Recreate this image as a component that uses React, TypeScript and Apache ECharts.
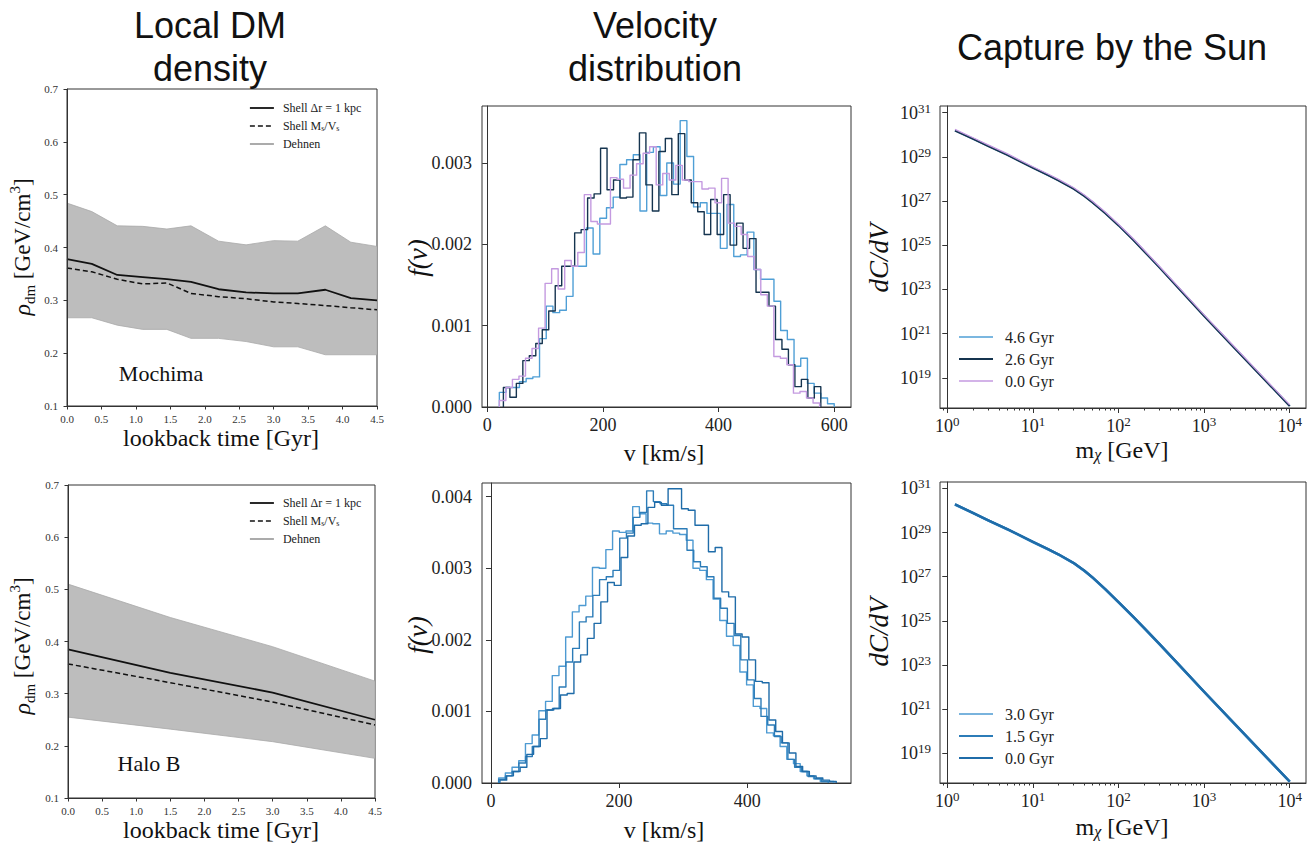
import React, { useEffect, useRef } from 'react';
import * as echarts from 'echarts';

const SERIF = "'Liberation Serif', 'DejaVu Serif', serif";
const SANS = "'Liberation Sans', Arial, sans-serif";

// ---------- Local DM density ----------
const mochimaTime = [0, 0.36, 0.73, 1.1, 1.45, 1.8, 2.2, 2.6, 3.0, 3.35, 3.75, 4.12, 4.5];
const mochimaShell = [0.378, 0.369, 0.348, 0.344, 0.340, 0.335, 0.321, 0.315, 0.313, 0.313, 0.320, 0.304, 0.300];
const mochimaShellMV = [0.361, 0.354, 0.340, 0.331, 0.333, 0.313, 0.307, 0.303, 0.297, 0.294, 0.290, 0.286, 0.282];
const mochimaDehnenLow = [0.267, 0.267, 0.253, 0.245, 0.245, 0.228, 0.228, 0.222, 0.212, 0.212, 0.197, 0.197, 0.197];
const mochimaDehnenHigh = [0.484, 0.468, 0.441, 0.440, 0.435, 0.441, 0.412, 0.405, 0.413, 0.412, 0.441, 0.410, 0.402];

const haloBTime = [0, 1.5, 3.0, 4.5];
const haloBShell = [0.385, 0.340, 0.302, 0.250];
const haloBShellMV = [0.357, 0.321, 0.284, 0.240];
const haloBDehnenLow = [0.255, 0.232, 0.208, 0.176];
const haloBDehnenHigh = [0.510, 0.446, 0.390, 0.324];

const densityTicksX = [0, 4.5];
const densityTicksY = [0.1, 0.7];

// ---------- Velocity distributions (values in units of 1e-3) ----------
const velTop46 = { start: 21, width: 11.58, values: [0.18, 0.24, 0.24, 0.31, 0.35, 0.37, 0.84, 1.24, 1.16, 1.19, 1.36, 1.73, 1.73, 2.20, 1.88, 2.32, 2.45, 2.58, 2.98, 3.04, 3.10, 2.41, 3.13, 3.20, 2.60, 3.00, 2.74, 3.52, 3.08, 2.46, 2.51, 2.38, 2.38, 1.95, 2.49, 1.85, 1.87, 2.15, 1.69, 1.57, 1.57, 1.30, 0.94, 0.83, 0.50, 0.60, 0.29, 0.17, 0.11, 0.04] };
const velTop26 = { start: 28, width: 11.2, values: [0.24, 0.12, 0.29, 0.57, 0.63, 0.78, 0.95, 1.18, 1.49, 1.73, 1.73, 2.14, 2.18, 2.57, 2.62, 3.18, 2.67, 2.79, 2.57, 2.58, 3.04, 3.37, 2.73, 2.41, 3.14, 3.30, 2.61, 3.36, 2.79, 2.51, 2.40, 2.12, 2.55, 2.12, 2.61, 1.99, 2.26, 1.95, 2.07, 1.41, 1.41, 1.24, 0.83, 0.71, 0.52, 0.25, 0.34, 0.11, 0.25] };
const velTop00 = { start: 21, width: 11.3, values: [0.08, 0.24, 0.34, 0.38, 0.60, 0.72, 0.97, 1.52, 1.70, 1.45, 1.80, 1.73, 1.90, 2.61, 2.28, 2.25, 2.25, 2.82, 2.80, 2.69, 2.85, 2.99, 3.12, 3.20, 2.73, 2.87, 2.79, 2.97, 2.79, 2.77, 2.77, 2.68, 2.69, 2.51, 2.81, 2.26, 2.22, 2.12, 1.85, 1.69, 1.38, 1.24, 0.62, 0.60, 0.52, 0.17, 0.19, 0.11, 0.05] };

const velBot30 = { start: 12, width: 10.46, values: [0.07, 0.14, 0.22, 0.31, 0.55, 0.67, 1.01, 1.14, 1.50, 1.63, 2.04, 2.39, 2.48, 2.61, 3.01, 3.00, 3.26, 3.52, 3.50, 3.52, 3.86, 3.76, 3.63, 3.62, 3.48, 3.52, 3.49, 3.47, 3.39, 3.00, 2.97, 2.84, 2.57, 2.27, 2.05, 1.92, 1.55, 1.37, 1.07, 1.04, 0.70, 0.66, 0.51, 0.33, 0.27, 0.16, 0.10, 0.06, 0.02, 0.02] };
const velBot15 = { start: 12, width: 10.5, values: [0.05, 0.10, 0.16, 0.28, 0.37, 0.51, 0.89, 1.02, 1.04, 1.34, 1.69, 1.88, 2.25, 2.32, 2.62, 2.84, 2.88, 2.97, 3.42, 3.49, 3.71, 3.78, 4.08, 3.93, 3.90, 3.88, 3.55, 3.55, 3.25, 3.09, 3.02, 2.88, 2.58, 2.44, 2.23, 2.06, 1.72, 1.44, 1.18, 0.93, 0.81, 0.65, 0.56, 0.33, 0.22, 0.16, 0.09, 0.06, 0.02] };
const velBot00 = { start: 14, width: 10.5, values: [0.04, 0.10, 0.16, 0.22, 0.40, 0.51, 0.62, 1.02, 1.04, 1.23, 1.25, 1.69, 1.79, 2.02, 2.23, 2.53, 2.80, 2.76, 3.15, 3.45, 3.60, 3.62, 3.85, 3.92, 3.88, 4.11, 4.11, 3.83, 3.81, 3.60, 3.60, 3.23, 3.29, 2.67, 2.60, 2.08, 2.04, 1.72, 1.42, 1.40, 0.88, 0.72, 0.56, 0.42, 0.23, 0.16, 0.10, 0.07, 0.04, 0.02] };

const velTopTicksX = [0, 200, 400, 600];
const velTopTicksY = [0, 0.001, 0.002, 0.003];
const velBotTicksX = [0, 200, 400];
const velBotTicksY = [0, 0.001, 0.002, 0.003, 0.004];

// ---------- Capture by the Sun ----------
const captureMass = [1.23, 2, 3, 5, 10, 15, 20, 30, 40, 50, 70, 100, 150, 200, 300, 500, 1000, 2000, 5000, 10000];
const capTop46 = [1.58e30, 6.6e29, 3.15e29, 1.25e29, 3.22e28, 1.51e28, 8.7e27, 3.62e27, 1.69e27, 8.7e26, 2.88e26, 8.1e25, 1.73e25, 5.35e24, 1.02e24, 1.19e23, 6.44e21, 3.8e20, 9.1e18, 5.48e17];
const capTop26 = [1.55e30, 6.46e29, 3.09e29, 1.23e29, 3.16e28, 1.48e28, 8.51e27, 3.55e27, 1.66e27, 8.51e26, 2.82e26, 7.94e25, 1.70e25, 5.25e24, 1.0e24, 1.17e23, 6.31e21, 3.72e20, 8.91e18, 5.37e17];
const capTop00 = [1.75e30, 7.3e29, 3.49e29, 1.39e29, 3.57e28, 1.67e28, 9.6e27, 4.0e27, 1.88e27, 9.6e26, 3.19e26, 8.97e25, 1.92e25, 5.93e24, 1.13e24, 1.32e23, 7.13e21, 4.2e20, 1.01e19, 6.07e17];
const capBot30 = [1.85e30, 7.53e29, 3.52e29, 1.41e29, 3.69e28, 1.73e28, 9.9e27, 4.05e27, 1.8e27, 8.85e26, 2.67e26, 6.87e25, 1.44e25, 4.54e24, 8.85e23, 1.07e23, 5.98e21, 3.52e20, 8.45e18, 5.09e17];
const capBot15 = [1.89e30, 7.68e29, 3.59e29, 1.44e29, 3.76e28, 1.76e28, 1.01e28, 4.13e27, 1.84e27, 9.03e26, 2.72e26, 7.01e25, 1.47e25, 4.63e24, 9.03e23, 1.09e23, 6.11e21, 3.59e20, 8.62e18, 5.2e17];
const capBot00 = [1.91e30, 7.76e29, 3.63e29, 1.45e29, 3.8e28, 1.78e28, 1.02e28, 4.17e27, 1.86e27, 9.12e26, 2.75e26, 7.08e25, 1.48e25, 4.68e24, 9.12e23, 1.1e23, 6.17e21, 3.63e20, 8.71e18, 5.25e17];

const capTopLabels = ['4.6 Gyr', '2.6 Gyr', '0.0 Gyr'];
const capBotLabels = ['3.0 Gyr', '1.5 Gyr', '0.0 Gyr'];
const massExpTicks = [0, 1, 2, 3, 4];
const rateExpTicks = [19, 21, 23, 25, 27, 29, 31];

// colours
const C_LIGHT = '#4f9fd6';
const C_NAVY = '#15344f';
const C_LAV = '#c49ae0';
const B_LIGHT = '#4d9ad2';
const B_MID = '#2c7cb8';
const B_DARK = '#1f6ca9';

function zip(xs: number[], ys: number[]) {
  return xs.map((x, i) => [x, ys[i]]);
}

function stepData(h: { start: number; width: number; values: number[] }) {
  const pts: number[][] = [[h.start, 0]];
  h.values.forEach((v, i) => pts.push([h.start + i * h.width, v * 1e-3]));
  const end = h.start + h.values.length * h.width;
  pts.push([end, h.values[h.values.length - 1] * 1e-3]);
  pts.push([end, 0]);
  return pts;
}

function logData(ms: number[], vs: number[]) {
  return ms.map((m, i) => [Math.log10(m), Math.log10(vs[i])]);
}

function bandSeries(name: string, idx: number, t: number[], lo: number[], hi: number[]) {
  return {
    name, type: 'custom', xAxisIndex: idx, yAxisIndex: idx, clip: true, silent: true, z: 1,
    data: [[t[0], lo[0]]],
    renderItem: (_p: any, api: any) => {
      const upper = t.map((x, i) => api.coord([x, hi[i]]));
      const lower = t.map((x, i) => api.coord([x, lo[i]])).reverse();
      return {
        type: 'polygon',
        shape: { points: upper.concat(lower) },
        style: { fill: '#bdbdbd', stroke: '#a9a9a9', lineWidth: 0.8 },
      };
    },
  };
}

function buildOption(): any {
  const grids = [
    { left: 67, top: 89, width: 310, height: 317 },
    { left: 68, top: 485, width: 307, height: 313 },
    { left: 482, top: 106, width: 369, height: 301 },
    { left: 482, top: 483, width: 369, height: 300 },
    { left: 940, top: 106, width: 366, height: 302 },
    { left: 940, top: 482, width: 366, height: 301 },
  ].map((g) => ({ ...g, show: true, borderColor: '#333', borderWidth: 1, backgroundColor: 'transparent' }));

  const line = { show: true, lineStyle: { color: '#333', width: 1 } };
  const tick = (len: number, custom?: number[]) => ({ show: true, length: len, lineStyle: { color: '#333', width: 1 }, ...(custom ? { customValues: custom } : {}) });

  const powRich = {
    b: { fontFamily: SERIF, fontSize: 18, lineHeight: 22, color: '#222' },
    s: { fontFamily: SERIF, fontSize: 13, lineHeight: 13, verticalAlign: 'top', color: '#222' },
  };
  const powFmt = (v: number) => `{b|10}{s|${Math.round(v)}}`;

  const densX = (gi: number) => ({
    gridIndex: gi, type: 'value', min: densityTicksX[0], max: densityTicksX[1], interval: 0.5, z: 5,
    axisLine: line, axisTick: tick(3.5), splitLine: { show: false },
    axisLabel: { fontFamily: SERIF, fontSize: 11, color: '#333', margin: 7, formatter: (v: number) => v.toFixed(1) },
  });
  const densY = (gi: number) => ({
    gridIndex: gi, type: 'value', min: densityTicksY[0], max: densityTicksY[1], interval: 0.1, z: 5,
    axisLine: line, axisTick: tick(3.5), splitLine: { show: false },
    axisLabel: { fontFamily: SERIF, fontSize: 11, color: '#333', margin: 9, formatter: (v: number) => v.toFixed(1) },
  });
  const velX = (gi: number, min: number, max: number, ticks: number[]) => ({
    gridIndex: gi, type: 'value', min, max,
    axisLine: line, axisTick: tick(5, ticks), splitLine: { show: false },
    axisLabel: { customValues: ticks, fontFamily: SERIF, fontSize: 18, color: '#222', margin: 9, formatter: (v: number) => String(Math.round(v)) },
  });
  const velY = (gi: number, max: number, ticks: number[]) => ({
    gridIndex: gi, type: 'value', min: 0, max,
    axisLine: line, axisTick: tick(5, ticks), splitLine: { show: false },
    axisLabel: { customValues: ticks, fontFamily: SERIF, fontSize: 18, color: '#222', margin: 10, formatter: (v: number) => v.toFixed(3) },
  });
  const capX = (gi: number) => ({
    gridIndex: gi, type: 'value', min: -0.085, max: 4.19, position: 'bottom',
    axisLine: line, axisTick: tick(5, massExpTicks), splitLine: { show: false },
    axisLabel: { customValues: massExpTicks, formatter: powFmt, rich: powRich, margin: 7 },
  });
  const minorVals: number[] = [];
  for (let n = -1; n <= 4; n++) for (let k = 2; k <= 9; k++) {
    const v = n + Math.log10(k);
    if (v > -0.085 && v < 4.19) minorVals.push(v);
  }
  const capXMinor = (gi: number) => ({
    gridIndex: gi, type: 'value', min: -0.085, max: 4.19, position: 'bottom',
    axisLine: { show: false }, axisTick: tick(2.5, minorVals), splitLine: { show: false },
    axisLabel: { show: false, customValues: minorVals },
  });
  const capY = (gi: number, min: number, max: number) => ({
    gridIndex: gi, type: 'value', min, max,
    axisLine: line, axisTick: tick(5, rateExpTicks), splitLine: { show: false },
    axisLabel: { customValues: rateExpTicks, formatter: powFmt, rich: powRich, margin: 9 },
  });

  const ln = (name: string, xi: number, data: number[][], color: string, width: number, extra: any = {}) => ({
    name, type: 'line', xAxisIndex: xi, yAxisIndex: xi, data, symbol: 'none', showSymbol: false,
    lineStyle: { color, width, join: 'round' }, itemStyle: { color }, emphasis: { disabled: true }, ...extra,
  });

  const series: any[] = [
    // Mochima
    bandSeries('mochima-band', 0, mochimaTime, mochimaDehnenLow, mochimaDehnenHigh),
    ln('Dehnen', 0, [], '#8f8f8f', 1.5),
    ln('Shell Δr = 1 kpc', 0, zip(mochimaTime, mochimaShell), '#111', 1.8),
    ln('Shell Ms/Vs', 0, zip(mochimaTime, mochimaShellMV), '#111', 1.5, { lineStyle: { color: '#111', width: 1.5, type: [5, 3] } }),
    // Halo B
    bandSeries('haloB-band', 1, haloBTime, haloBDehnenLow, haloBDehnenHigh),
    ln('Shell Δr = 1 kpc', 1, zip(haloBTime, haloBShell), '#111', 1.8),
    ln('Shell Ms/Vs', 1, zip(haloBTime, haloBShellMV), '#111', 1.5, { lineStyle: { color: '#111', width: 1.5, type: [5, 3] } }),
    // velocity top
    ln('vt46', 2, stepData(velTop46), C_LIGHT, 1.4, { step: 'end' }),
    ln('vt26', 2, stepData(velTop26), C_NAVY, 1.4, { step: 'end' }),
    ln('vt00', 2, stepData(velTop00), C_LAV, 1.4, { step: 'end' }),
    // velocity bottom
    ln('vb30', 3, stepData(velBot30), B_LIGHT, 1.4, { step: 'end' }),
    ln('vb15', 3, stepData(velBot15), B_MID, 1.4, { step: 'end' }),
    ln('vb00', 3, stepData(velBot00), B_DARK, 1.4, { step: 'end' }),
    // capture top
    ln('tr46', 4, logData(captureMass, capTop46), C_LIGHT, 2),
    ln('tr26', 4, logData(captureMass, capTop26), C_NAVY, 2),
    ln('tr00', 4, logData(captureMass, capTop00), C_LAV, 1.3),
    // capture bottom
    ln('br30', 5, logData(captureMass, capBot30), B_LIGHT, 2.5),
    ln('br15', 5, logData(captureMass, capBot15), B_MID, 2.5),
    ln('br00', 5, logData(captureMass, capBot00), B_DARK, 2.2),
  ];

  const legendLabel: Record<string, string> = {
    tr46: capTopLabels[0], tr26: capTopLabels[1], tr00: capTopLabels[2],
    br30: capBotLabels[0], br15: capBotLabels[1], br00: capBotLabels[2],
  };

  const densLegend = (top: number) => ({
    orient: 'vertical', left: 244, top, itemWidth: 24, itemHeight: 10, itemGap: 6,
    selectedMode: false, itemStyle: { opacity: 0 },
    data: [
      { name: 'Shell Δr = 1 kpc', lineStyle: { width: 1.8, color: '#111' } },
      { name: 'Shell Ms/Vs', lineStyle: { width: 1.5, color: '#111', type: [5, 3] } },
      { name: 'Dehnen', lineStyle: { width: 1.5, color: '#8f8f8f' } },
    ],
    formatter: (n: string) => (n === 'Shell Ms/Vs' ? 'Shell M{sub|s}/V{sub|s}' : n),
    textStyle: {
      fontFamily: SERIF, fontSize: 12, color: '#222', padding: [0, 0, 0, 4],
      rich: { sub: { fontFamily: SERIF, fontSize: 8, lineHeight: 8, verticalAlign: 'bottom', color: '#222' } },
    },
  });
  const capLegend = (top: number, names: string[], widths: number[]) => ({
    orient: 'vertical', left: 953, top, itemWidth: 34, itemHeight: 14, itemGap: 6,
    selectedMode: false, itemStyle: { opacity: 0 },
    data: names.map((n, i) => ({ name: n, lineStyle: { width: widths[i] } })),
    formatter: (n: string) => legendLabel[n] || n,
    textStyle: { fontFamily: SERIF, fontSize: 16, color: '#222', padding: [0, 0, 0, 7] },
  });

  const txt = (text: string, x: number, y: number, font: string, extra: any = {}) => {
    const { style, ...rest } = extra;
    return {
      type: 'text', x, y, silent: true, ...rest,
      style: {
        text, font, fill: '#111', textAlign: 'center', align: 'center', textVerticalAlign: 'middle', verticalAlign: 'middle',
        ...(style || {}),
      },
    };
  };
  const titleFont = `36px ${SANS}`;
  const labelFont = `24px ${SERIF}`;
  const italFont = `italic 27px ${SERIF}`;
  const subRich = {
    sub: { fontFamily: SERIF, fontSize: 15, lineHeight: 14, verticalAlign: 'bottom', fill: '#111' },
    sup: { fontFamily: SERIF, fontSize: 15, lineHeight: 14, verticalAlign: 'top', fill: '#111' },
    i: { fontFamily: SERIF, fontStyle: 'italic', fontSize: 24, lineHeight: 30, fill: '#111' },
    ci: { fontFamily: SERIF, fontStyle: 'italic', fontSize: 16, lineHeight: 12, verticalAlign: 'bottom', fill: '#111' },
  };

  const graphics: any[] = [
    txt('Local DM\ndensity', 210, 47, titleFont, { style: { lineHeight: 43 } }),
    txt('Velocity\ndistribution', 655, 47, titleFont, { style: { lineHeight: 43 } }),
    txt('Capture by the Sun', 1112, 47, titleFont),
    txt('Mochima', 161, 373, `22px ${SERIF}`),
    txt('Halo B', 149, 763, `22px ${SERIF}`),
    txt('lookback time [Gyr]', 221, 438, labelFont),
    txt('lookback time [Gyr]', 221, 830, labelFont),
    txt('v [km/s]', 664, 453, labelFont),
    txt('v [km/s]', 664, 830, labelFont),
    txt('m{ci|χ} [GeV]', 1122, 450, labelFont, { style: { rich: subRich, lineHeight: 24 } }),
    txt('m{ci|χ} [GeV]', 1122, 827, labelFont, { style: { rich: subRich, lineHeight: 24 } }),
    txt('{i|ρ}{sub|dm} [GeV/cm{sup|3}]', 22, 247, `23px ${SERIF}`, { rotation: Math.PI / 2, style: { rich: subRich, lineHeight: 30 } }),
    txt('{i|ρ}{sub|dm} [GeV/cm{sup|3}]', 22, 646, `23px ${SERIF}`, { rotation: Math.PI / 2, style: { rich: subRich, lineHeight: 30 } }),
    txt('f(v)', 418, 258, italFont, { rotation: Math.PI / 2 }),
    txt('f(v)', 418, 635, italFont, { rotation: Math.PI / 2 }),
    txt('dC/dV', 879, 258, italFont, { rotation: Math.PI / 2 }),
    txt('dC/dV', 879, 632, italFont, { rotation: Math.PI / 2 }),
  ];

  return {
    animation: false,
    backgroundColor: '#fff',
    grid: grids,
    xAxis: [densX(0), densX(1), velX(2, -9, 629, velTopTicksX), velX(3, -14, 562, velBotTicksX), capX(4), capX(5), capXMinor(4), capXMinor(5)],
    yAxis: [densY(0), densY(1), velY(2, 0.0037, velTopTicksY), velY(3, 0.00419, velBotTicksY), capY(4, 17.64, 31.3), capY(5, 17.65, 31.29)],
    legend: [
      densLegend(97),
      densLegend(492),
      capLegend(324, ['tr46', 'tr26', 'tr00'], [1.5, 2, 1.5]),
      capLegend(701, ['br30', 'br15', 'br00'], [1.5, 2, 2]),
    ],
    series,
    graphic: graphics,
  };
}

export default function App() {
  const ref = useRef<HTMLDivElement>(null);
  useEffect(() => {
    const chart = echarts.init(ref.current as HTMLDivElement, null, { renderer: 'svg' });
    chart.setOption(buildOption());
    return () => chart.dispose();
  }, []);
  return (
    <div
      ref={ref}
      style={{ position: 'absolute', left: 0, top: 0, width: 1307, height: 844, background: '#fff' }}
    />
  );
}
